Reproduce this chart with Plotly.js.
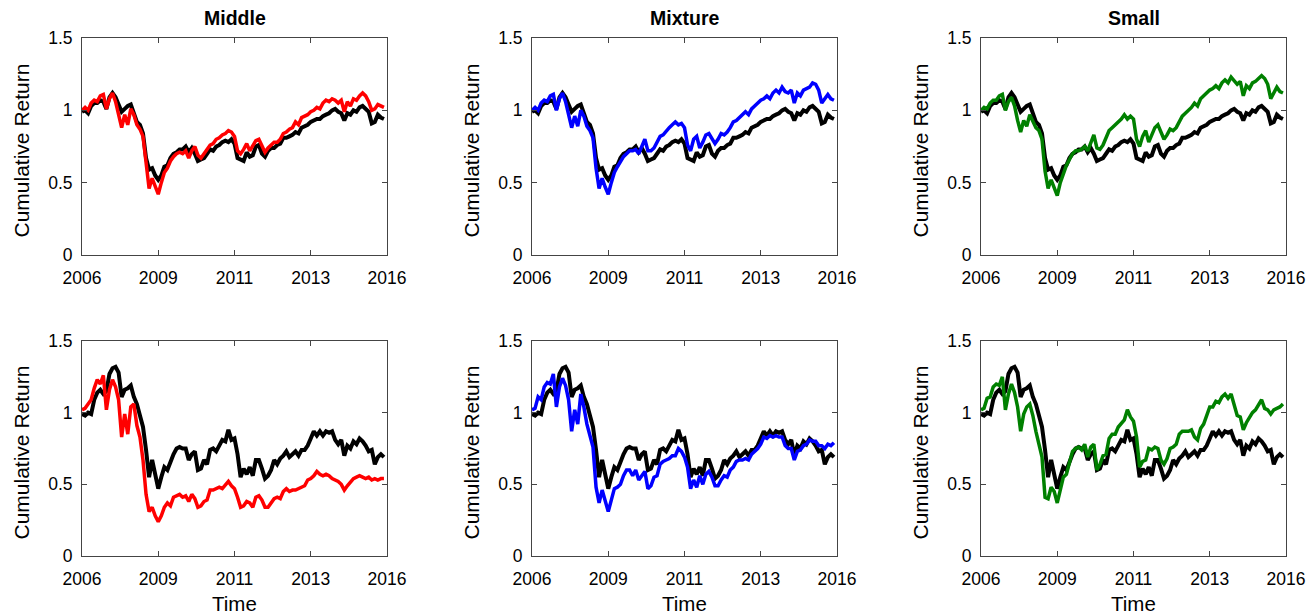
<!DOCTYPE html>
<html>
<head>
<meta charset="utf-8">
<script src="https://cdn.plot.ly/plotly-3.0.1.min.js"></script>
<style>html,body{margin:0;padding:0;background:#fff;}#chart{width:1311px;height:615px;}</style>
</head>
<body>
<div id="chart"></div>
<script>
// Panel titles and tick labels
const panelTitles = ['Middle', 'Mixture', 'Small'];
const xTickLabels = ['2006', '2009', '2011', '2013', '2016'];
const yTickLabels = ['0', '0.5', '1', '1.5'];
const yTickValues = [0, 0.5, 1, 1.5];

// Top row: benchmark (black)
const benchTop = [
 0.99,1.00,0.98,1.03,1.05,1.05,1.07,1.06,1.01,1.09,
 1.12,1.09,1.04,0.99,1.01,1.03,1.04,0.98,0.92,0.90,
 0.84,0.67,0.59,0.60,0.55,0.52,0.55,0.61,0.62,0.67,
 0.70,0.71,0.73,0.73,0.75,0.71,0.74,0.70,0.65,0.66,
 0.67,0.70,0.73,0.72,0.75,0.76,0.78,0.79,0.78,0.80,
 0.77,0.67,0.66,0.65,0.71,0.68,0.69,0.75,0.76,0.70,
 0.68,0.72,0.74,0.74,0.76,0.77,0.81,0.81,0.82,0.83,
 0.85,0.84,0.88,0.89,0.90,0.92,0.93,0.94,0.94,0.96,
 0.97,0.98,1.00,1.01,0.99,0.98,0.93,0.98,0.97,1.00,
 0.99,1.02,1.03,1.01,0.99,0.91,0.92,0.97,0.95,0.94];
// Top row: Middle (red)
const middleTop = [
 1.00,1.02,1.00,1.05,1.07,1.06,1.10,1.11,1.01,1.08,
 1.12,1.06,0.97,0.88,0.97,0.90,1.01,0.97,0.90,0.87,
 0.82,0.62,0.46,0.53,0.47,0.42,0.50,0.57,0.60,0.65,
 0.68,0.70,0.71,0.70,0.72,0.67,0.72,0.75,0.69,0.67,
 0.70,0.73,0.76,0.77,0.80,0.81,0.83,0.84,0.86,0.85,
 0.82,0.72,0.70,0.73,0.77,0.72,0.76,0.79,0.80,0.76,
 0.71,0.74,0.76,0.78,0.78,0.80,0.84,0.85,0.87,0.88,
 0.92,0.90,0.95,0.96,0.97,0.99,1.00,1.02,1.01,1.05,
 1.07,1.06,1.08,1.07,1.05,1.07,0.99,1.06,1.03,1.08,
 1.07,1.10,1.12,1.10,1.06,1.00,1.01,1.04,1.03,1.02];
// Top row: Mixture (blue)
const mixtureTop = [
 1.00,1.02,1.00,1.05,1.07,1.06,1.10,1.11,1.00,1.08,
 1.12,1.06,0.97,0.88,0.96,0.89,1.00,0.96,0.89,0.86,
 0.81,0.60,0.46,0.53,0.47,0.42,0.50,0.57,0.61,0.65,
 0.68,0.70,0.72,0.72,0.73,0.70,0.75,0.80,0.72,0.72,
 0.74,0.78,0.82,0.83,0.86,0.88,0.90,0.92,0.90,0.91,
 0.88,0.76,0.72,0.80,0.82,0.74,0.78,0.83,0.84,0.80,
 0.77,0.80,0.84,0.83,0.85,0.88,0.92,0.93,0.95,0.97,
 0.99,0.97,1.01,1.03,1.05,1.07,1.08,1.10,1.08,1.12,
 1.14,1.12,1.16,1.13,1.12,1.14,1.05,1.12,1.10,1.14,
 1.15,1.16,1.19,1.18,1.14,1.05,1.08,1.11,1.08,1.07];
// Top row: Small (green)
const smallTop = [
 1.00,1.02,1.01,1.05,1.07,1.07,1.10,1.11,1.00,1.06,
 1.09,1.03,0.93,0.85,0.93,0.89,0.97,0.93,0.88,0.86,
 0.80,0.58,0.46,0.52,0.47,0.41,0.50,0.57,0.62,0.66,
 0.70,0.72,0.72,0.73,0.75,0.72,0.78,0.83,0.74,0.73,
 0.76,0.81,0.86,0.88,0.90,0.92,0.94,0.97,0.94,0.96,
 0.94,0.80,0.75,0.82,0.86,0.78,0.83,0.88,0.90,0.85,
 0.80,0.83,0.87,0.86,0.88,0.92,0.96,0.98,1.00,1.02,
 1.05,1.03,1.08,1.10,1.12,1.14,1.15,1.17,1.15,1.19,
 1.21,1.19,1.23,1.20,1.18,1.20,1.10,1.17,1.15,1.19,
 1.20,1.22,1.24,1.22,1.18,1.08,1.12,1.16,1.13,1.12];

// Bottom row: benchmark (black)
const benchBottom = [
 0.99,0.98,1.00,0.99,1.09,1.14,1.16,1.13,1.15,1.27,
 1.31,1.32,1.28,1.11,1.16,1.17,1.19,1.11,1.06,0.98,
 0.90,0.74,0.55,0.67,0.56,0.47,0.55,0.62,0.60,0.66,
 0.71,0.75,0.76,0.75,0.75,0.67,0.71,0.73,0.60,0.61,
 0.67,0.64,0.74,0.75,0.73,0.77,0.81,0.80,0.88,0.81,
 0.82,0.71,0.55,0.61,0.57,0.62,0.56,0.67,0.67,0.61,
 0.54,0.56,0.60,0.67,0.64,0.68,0.70,0.73,0.69,0.71,
 0.73,0.70,0.74,0.74,0.77,0.82,0.87,0.84,0.87,0.84,
 0.87,0.86,0.87,0.81,0.78,0.81,0.70,0.77,0.75,0.80,
 0.78,0.82,0.80,0.77,0.73,0.74,0.64,0.69,0.71,0.69];
// Bottom row: Middle (red)
const middleBottom = [
 1.02,1.03,1.06,1.09,1.17,1.23,1.20,1.26,1.02,1.16,
 1.23,1.18,1.09,0.83,0.99,0.85,1.04,1.06,0.91,0.83,
 0.67,0.43,0.31,0.34,0.28,0.24,0.28,0.34,0.37,0.35,
 0.41,0.42,0.43,0.41,0.42,0.38,0.43,0.40,0.34,0.35,
 0.38,0.39,0.46,0.46,0.47,0.48,0.47,0.50,0.52,0.49,
 0.47,0.41,0.34,0.35,0.38,0.37,0.34,0.41,0.42,0.39,
 0.34,0.34,0.37,0.40,0.41,0.40,0.45,0.47,0.45,0.46,
 0.46,0.47,0.48,0.49,0.53,0.54,0.56,0.59,0.57,0.56,
 0.57,0.56,0.54,0.53,0.52,0.50,0.46,0.49,0.52,0.54,
 0.55,0.56,0.55,0.54,0.55,0.53,0.54,0.53,0.54,0.54];
// Bottom row: Mixture (blue)
const mixtureBottom = [
 1.02,1.03,1.11,1.09,1.18,1.21,1.20,1.27,1.04,1.18,
 1.24,1.19,1.09,0.87,1.02,0.92,1.13,1.04,0.92,0.84,
 0.76,0.48,0.37,0.46,0.38,0.31,0.39,0.47,0.48,0.50,
 0.56,0.60,0.60,0.56,0.60,0.53,0.56,0.59,0.47,0.49,
 0.55,0.56,0.64,0.66,0.67,0.68,0.70,0.70,0.75,0.73,
 0.69,0.62,0.47,0.53,0.48,0.56,0.50,0.57,0.59,0.55,
 0.49,0.49,0.53,0.56,0.55,0.60,0.62,0.66,0.67,0.67,
 0.68,0.67,0.71,0.73,0.75,0.78,0.83,0.82,0.84,0.83,
 0.84,0.83,0.83,0.77,0.75,0.75,0.67,0.73,0.74,0.77,
 0.78,0.81,0.80,0.80,0.77,0.77,0.75,0.78,0.77,0.79];
// Bottom row: Small (green)
const smallBottom = [
 1.02,1.03,1.10,1.11,1.18,1.20,1.19,1.25,1.02,1.13,
 1.20,1.14,1.04,0.87,0.99,1.04,1.06,0.98,0.87,0.78,
 0.69,0.41,0.40,0.48,0.45,0.37,0.46,0.55,0.57,0.64,
 0.73,0.75,0.76,0.74,0.78,0.69,0.76,0.78,0.60,0.64,
 0.70,0.71,0.82,0.85,0.85,0.90,0.93,0.95,1.02,0.97,
 0.94,0.83,0.62,0.66,0.67,0.75,0.74,0.76,0.75,0.67,
 0.64,0.68,0.75,0.76,0.78,0.85,0.87,0.87,0.87,0.88,
 0.83,0.81,0.89,0.92,0.98,1.04,1.04,1.08,1.07,1.11,
 1.13,1.10,1.13,1.06,0.98,0.97,0.88,0.93,0.97,1.00,
 1.02,1.05,1.09,1.03,1.02,0.99,1.02,1.03,1.04,1.06];

const FONT = 'Liberation Sans, Arial, Helvetica, sans-serif';
const idx = a => a.map((_, i) => i);

const panels = [
  {bench: benchTop, s: middleTop, c: '#ff0000'},
  {bench: benchTop, s: mixtureTop, c: '#0000ff'},
  {bench: benchTop, s: smallTop, c: '#008000'},
  {bench: benchBottom, s: middleBottom, c: '#ff0000'},
  {bench: benchBottom, s: mixtureBottom, c: '#0000ff'},
  {bench: benchBottom, s: smallBottom, c: '#008000'}
];

const W = 1311, H = 615;
const colPx = [[82, 387], [532, 837], [981, 1286]];
const rowPx = [[38, 255], [341, 556]];

const traces = [];
const layout = {
  width: W, height: H,
  margin: {l: 0, r: 0, t: 0, b: 0},
  paper_bgcolor: '#fff', plot_bgcolor: '#fff',
  showlegend: false,
  font: {family: FONT, color: '#000'},
  annotations: []
};

panels.forEach((p, k) => {
  const n = k + 1;
  const xa = 'x' + (n === 1 ? '' : n), ya = 'y' + (n === 1 ? '' : n);
  traces.push({x: idx(p.bench), y: p.bench, xaxis: xa, yaxis: ya, type: 'scatter', mode: 'lines',
    line: {color: '#000', width: 4}, hoverinfo: 'skip'});
  traces.push({x: idx(p.s), y: p.s, xaxis: xa, yaxis: ya, type: 'scatter', mode: 'lines',
    line: {color: p.c, width: 3.5}, hoverinfo: 'skip'});
  const col = k % 3, row = Math.floor(k / 3);
  const cx = colPx[col], ry = rowPx[row];
  const common = {showline: true, mirror: 'ticks', linecolor: '#444', linewidth: 1,
    ticks: 'inside', ticklen: 5, tickcolor: '#444', tickwidth: 1, showgrid: false, zeroline: false,
    tickfont: {family: FONT, size: 17.5, color: '#000'}, fixedrange: true};
  layout['xaxis' + (n === 1 ? '' : n)] = Object.assign({}, common, {
    domain: [cx[0] / W, cx[1] / W], anchor: ya, range: [0, 100],
    tickmode: 'array', tickvals: [0, 25, 50, 75, 100], ticktext: xTickLabels,
    ticklabelstandoff: 7
  });
  layout['yaxis' + (n === 1 ? '' : n)] = Object.assign({}, common, {
    domain: [1 - ry[1] / H, 1 - ry[0] / H], anchor: xa, range: [0, 1.5],
    tickmode: 'array', tickvals: yTickValues, ticktext: yTickLabels,
    ticklabelstandoff: 5
  });
  // y title
  layout.annotations.push({text: 'Cumulative Return', xref: 'paper', yref: 'paper',
    x: (cx[0] - 61) / W, y: 1 - ((ry[0] + ry[1]) / 2 + 4) / H, textangle: -90, showarrow: false,
    xanchor: 'center', yanchor: 'middle', font: {family: FONT, size: 21, color: '#000'}});
  if (row === 0) {
    layout.annotations.push({text: '<b>' + panelTitles[col] + '</b>', xref: 'paper', yref: 'paper',
      x: ((cx[0] + cx[1]) / 2) / W, y: 1 - 18 / H, showarrow: false, xanchor: 'center', yanchor: 'middle',
      font: {family: FONT, size: 19.5, color: '#000'}});
  } else {
    layout.annotations.push({text: 'Time', xref: 'paper', yref: 'paper',
      x: ((cx[0] + cx[1]) / 2) / W, y: 1 - 603 / H, showarrow: false, xanchor: 'center', yanchor: 'middle',
      font: {family: FONT, size: 20.5, color: '#000'}});
  }
});

Plotly.newPlot('chart', traces, layout, {staticPlot: true, displayModeBar: false});
</script>
</body>
</html>
